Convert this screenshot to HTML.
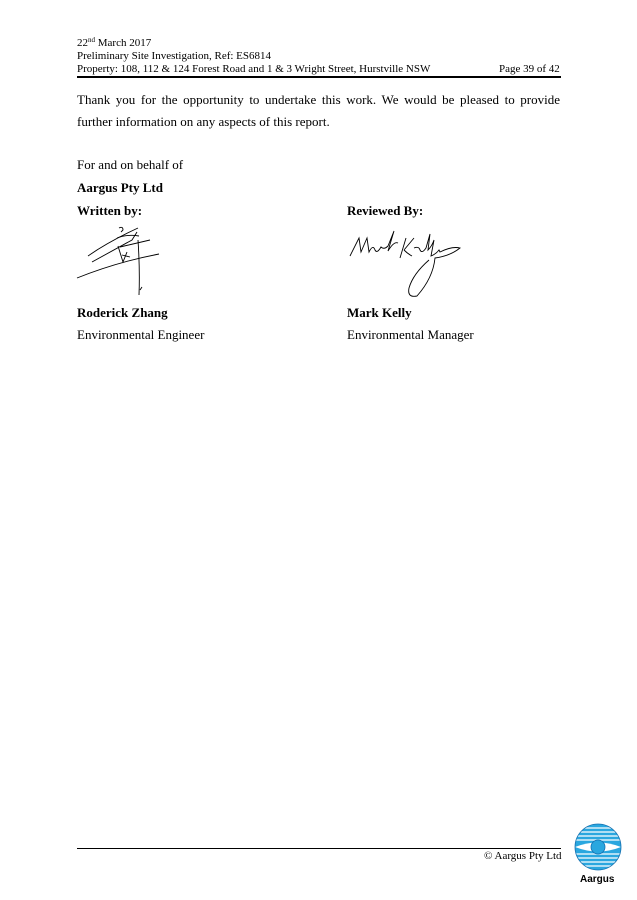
<!DOCTYPE html>
<html><head><meta charset="utf-8"><style>
body{margin:0;width:637px;height:900px;background:#fff;position:relative;font-family:"Liberation Serif",serif;color:#000;overflow:hidden}
.a{position:absolute;white-space:nowrap}
.h{font-size:11px;line-height:13px}
.t{font-size:13px}
b{font-weight:bold}
</style></head><body>
<div class="a h" style="left:77px;top:37px">22<sup style="font-size:7px;vertical-align:4px;line-height:0">nd</sup> March 2017</div>
<div class="a h" style="left:77px;top:50px">Preliminary Site Investigation, Ref: ES6814</div>
<div class="a h" style="left:77px;top:63px">Property: 108, 112 &amp; 124 Forest Road and 1 &amp; 3 Wright Street, Hurstville NSW</div>
<div class="a h" style="left:499px;top:63px">Page 39 of 42</div>
<div class="a" style="left:77px;top:76px;width:484px;height:1.5px;background:#000"></div>
<div class="a t" style="left:77px;top:92px;width:483px;white-space:normal;text-align:justify;text-align-last:justify">Thank you for the opportunity to undertake this work. We would be pleased to provide</div>
<div class="a t" style="left:77px;top:114px">further information on any aspects of this report.</div>
<div class="a t" style="left:77px;top:157px">For and on behalf of</div>
<div class="a t" style="left:77px;top:180px"><b>Aargus Pty Ltd</b></div>
<div class="a t" style="left:77px;top:203px"><b>Written by:</b></div>
<div class="a t" style="left:347px;top:203px"><b>Reviewed By:</b></div>
<svg class="a" style="left:0;top:0" width="637" height="900" fill="none" stroke="#000" stroke-width="0.9">
<path d="M119 228 q4 -2 4 2 l-2 2"/>
<path d="M88 256 q20 -14 50 -28 M92 262 l40 -22 l5 -8"/>
<path d="M117 238 q10 -4 22 -2 M120 247 l30 -7 M122 255 l8 2 M118 246 l5 16 l4 -10"/>
<path d="M77 278 q40 -16 82 -24"/>
<path d="M138 240 q2 30 1 55 M140 290 l2 -3"/>
<path d="M350 256 l9 -18 l2 14 l6 -14 l2 14 q4 -8 6 -2 q2 4 6 -3 q3 3 7 -1 l6 -15 l-6 20 q6 -10 10 -8"/>
<path d="M406 238 l-6 20 M404 250 l10 -12 M404 250 q4 4 8 6 M414 248 q5 -2 6 2 q2 4 6 -2 l4 -14 l-2 16 q4 -4 6 -10 l-3 16 q5 -2 8 -6 l1 2 q12 -6 20 -4 q-10 8 -25 10 q-2 20 -18 38 q-10 2 -8 -8 q4 -14 20 -28"/>
</svg>
<div class="a t" style="left:77px;top:305px"><b>Roderick Zhang</b></div>
<div class="a t" style="left:77px;top:327px">Environmental Engineer</div>
<div class="a t" style="left:347px;top:305px"><b>Mark Kelly</b></div>
<div class="a t" style="left:347px;top:327px">Environmental Manager</div>
<div class="a" style="left:77px;top:848px;width:484px;height:1px;background:#000"></div>
<div class="a" style="left:484px;top:850px;font-size:11px">© Aargus Pty Ltd</div>
<svg class="a" style="left:574px;top:823px" width="48" height="48" viewBox="0 0 48 48">
<defs><clipPath id="c"><circle cx="24" cy="24" r="23"/></clipPath></defs>
<circle cx="24" cy="24" r="23" fill="#2aa7df"/>
<g clip-path="url(#c)" stroke="#fff" stroke-width="1.3" fill="none">
<path d="M0 5h48M0 9h48M0 13h48M0 17h48M0 31h48M0 35h48M0 39h48M0 43h48"/>
</g>
<path d="M1 24 Q24 15 47 24 Q24 33 1 24Z" fill="#fff"/>
<circle cx="24" cy="24" r="7" fill="#2aa7df" stroke="#1570b0" stroke-width="0.8"/>
<circle cx="24" cy="24" r="23" fill="none" stroke="#1570b0" stroke-width="0.8"/>
</svg>
<div class="a" style="left:580px;top:874px;font-family:'Liberation Sans',sans-serif;font-weight:bold;font-size:10px">Aargus</div>
</body></html>
